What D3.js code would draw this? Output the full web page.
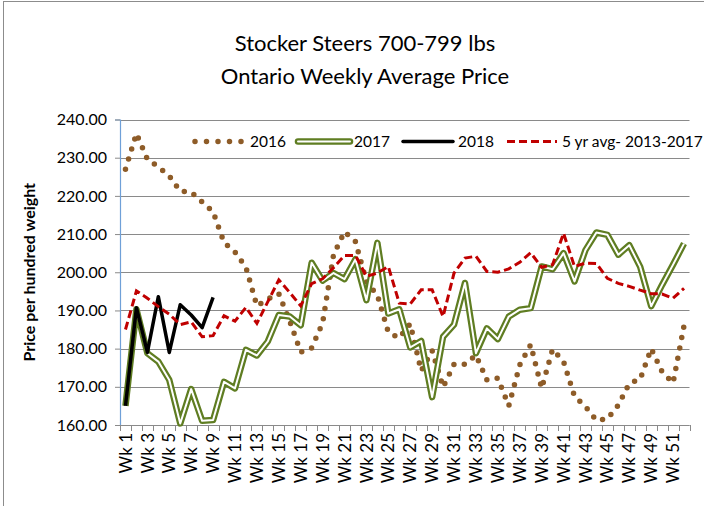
<!DOCTYPE html>
<html>
<head>
<meta charset="utf-8">
<script src="https://cdn.jsdelivr.net/npm/d3@7/dist/d3.min.js"></script>
<style>
body { margin: 0; background: #fff; }
text { font-family: Lato, "Open Sans", sans-serif; fill: #000; }
</style>
</head>
<body>
<script>
(function(){

//categories (weeks of the year)
var weeks = ["Wk 1","Wk 2","Wk 3","Wk 4","Wk 5","Wk 6","Wk 7","Wk 8","Wk 9","Wk 10",
    "Wk 11","Wk 12","Wk 13","Wk 14","Wk 15","Wk 16","Wk 17","Wk 18","Wk 19","Wk 20",
    "Wk 21","Wk 22","Wk 23","Wk 24","Wk 25","Wk 26","Wk 27","Wk 28","Wk 29","Wk 30",
    "Wk 31","Wk 32","Wk 33","Wk 34","Wk 35","Wk 36","Wk 37","Wk 38","Wk 39","Wk 40",
    "Wk 41","Wk 42","Wk 43","Wk 44","Wk 45","Wk 46","Wk 47","Wk 48","Wk 49","Wk 50",
    "Wk 51","Wk 52"];

//weekly average price, $ per hundred weight
var price2016 = [227.0, 236.3, 229.6, 227.6, 225.2, 221.2, 221.0, 218.4, 215.8, 207.8,
    205.3, 201.3, 191.2, 193.0, 194.4, 187.2, 179.1, 180.2, 186.7, 204.6,
    210.6, 208.0, 197.5, 194.0, 184.3, 182.8, 186.5, 174.2, 179.5, 169.9,
    175.9, 175.9, 178.3, 171.8, 172.3, 165.0, 175.7, 181.0, 169.6, 179.8,
    176.6, 167.5, 164.8, 161.2, 161.6, 165.2, 170.9, 172.0, 180.0, 173.9,
    171.0, 186.0];

var price2017 = [165.0, 190.3, 178.8, 176.6, 171.8, 160.4, 169.4, 161.1, 161.3, 171.3,
    169.6, 179.7, 178.2, 181.9, 188.8, 188.4, 186.1, 202.5, 197.8, 199.8,
    198.2, 203.4, 192.7, 207.7, 189.2, 190.3, 180.3, 182.0, 167.3, 183.1,
    186.3, 197.2, 178.8, 185.3, 182.5, 188.4, 190.2, 190.6, 201.5, 200.8,
    205.0, 197.6, 205.8, 210.4, 209.8, 204.6, 207.1, 201.4, 191.1, 196.7,
    202.0, 207.5];

var price2018 = [165.0, 190.7, 179.0, 193.6, 179.0, 191.5, 188.8, 185.5, 193.4];

var avg5yr = [185.0, 195.1, 193.2, 191.0, 189.0, 186.3, 187.0, 183.1, 183.4, 188.6,
    187.2, 190.8, 186.6, 192.3, 198.0, 194.7, 191.2, 197.0, 198.3, 201.2,
    204.4, 204.4, 198.9, 199.8, 201.5, 191.9, 191.7, 195.4, 195.4, 188.4,
    199.8, 203.7, 204.2, 200.2, 200.0, 200.9, 202.6, 205.1, 201.3, 202.0,
    210.2, 201.5, 202.4, 202.3, 198.4, 197.1, 196.3, 195.3, 194.4, 194.3,
    193.2, 195.8];

//y axis ticks
var yTicks = [160, 170, 180, 190, 200, 210, 220, 230, 240];

//series names for legend
var seriesNames = ["2016", "2017", "2018", "5 yr avg- 2013-2017"];

//frame
var width = 704,
    height = 506,
    plotLeft = 120,
    plotRight = 689.5,
    plotTop = 119.5,
    plotBottom = 425;

var svg = d3.select("body")
    .append("svg")
    .attr("width", width)
    .attr("height", height);

//outer chart border (right and bottom run off the picture)
svg.append("rect")
    .attr("x", 3.5)
    .attr("y", 1.5)
    .attr("width", 760)
    .attr("height", 560)
    .attr("fill", "none")
    .attr("stroke", "#8c8c8c")
    .attr("stroke-width", 1);

//scales
var x = d3.scalePoint()
    .domain(weeks)
    .range([plotLeft, plotRight])
    .padding(0.5);

var y = d3.scaleLinear()
    .domain([160, 240])
    .range([plotBottom, plotTop]);

var step = x.step();

//title
svg.append("text")
    .attr("x", 365)
    .attr("y", 51)
    .attr("text-anchor", "middle")
    .style("font-size", "22px")
    .text("Stocker Steers 700-799 lbs");

svg.append("text")
    .attr("x", 365)
    .attr("y", 84)
    .attr("text-anchor", "middle")
    .style("font-size", "22px")
    .text("Ontario Weekly Average Price");

//gridlines
svg.selectAll(".grid")
    .data(yTicks)
    .enter()
    .append("line")
    .attr("class", "grid")
    .attr("x1", plotLeft)
    .attr("x2", plotRight)
    .attr("y1", function(d){ return Math.round(y(d)) + 0.5; })
    .attr("y2", function(d){ return Math.round(y(d)) + 0.5; })
    .attr("stroke", "#8a8a8a")
    .attr("stroke-width", 1);

//y axis
var yAxis = d3.axisLeft(y)
    .tickValues(yTicks)
    .tickSize(5)
    .tickPadding(8)
    .tickFormat(d3.format(".2f"));

var yG = svg.append("g")
    .attr("transform", "translate(" + plotLeft + ",0)")
    .call(yAxis);
yG.select(".domain").attr("stroke", "#6fa0d8").attr("stroke-width", 1.2);
yG.selectAll(".tick line").attr("stroke", "#8a8a8a");
yG.selectAll(".tick text")
    .style("font-size", "16px")
    .style("font-family", "Lato, sans-serif")
    .attr("fill", "#000");

//y axis title
svg.append("text")
    .attr("transform", "translate(35," + ((plotTop + plotBottom) / 2) + ") rotate(-90)")
    .attr("text-anchor", "middle")
    .style("font-size", "16px")
    .style("font-weight", "bold")
    .text("Price per hundred weight");

//x axis line and ticks between weeks
var xAxisG = svg.append("g").attr("class", "xaxis");
xAxisG.append("line")
    .attr("x1", plotLeft)
    .attr("x2", plotRight)
    .attr("y1", plotBottom + 0.5)
    .attr("y2", plotBottom + 0.5)
    .attr("stroke", "#8a8a8a");

var boundaries = weeks.map(function(d){ return x(d) - step / 2; });
boundaries.push(x(weeks[weeks.length - 1]) + step / 2);

xAxisG.selectAll(".xtick")
    .data(boundaries)
    .enter()
    .append("line")
    .attr("class", "xtick")
    .attr("x1", function(d){ return Math.round(d) + 0.5; })
    .attr("x2", function(d){ return Math.round(d) + 0.5; })
    .attr("y1", plotBottom)
    .attr("y2", plotBottom + 6)
    .attr("stroke", "#8a8a8a");

//x labels on every other week
xAxisG.selectAll(".xlabel")
    .data(weeks.filter(function(d, i){ return i % 2 == 0; }))
    .enter()
    .append("text")
    .attr("class", "xlabel")
    .attr("transform", function(d){
        return "translate(" + x(d) + "," + (plotBottom + 8) + ") rotate(-90)";
    })
    .attr("dy", "0.36em")
    .attr("text-anchor", "end")
    .style("font-size", "17px")
    .text(function(d){ return d; });

//line generator
var line = d3.line()
    .x(function(d, i){ return x(weeks[i]); })
    .y(function(d){ return y(d); });

//2016 dotted brown
svg.append("path")
    .datum(price2016)
    .attr("d", line)
    .attr("fill", "none")
    .attr("stroke", "#8e5c28")
    .attr("stroke-width", 5.5)
    .attr("stroke-linecap", "round")
    .attr("stroke-dasharray", "0 10.5");

//2017 green double line
svg.append("path")
    .datum(price2017)
    .attr("d", line)
    .attr("fill", "none")
    .attr("stroke", "#5f7d22")
    .attr("stroke-width", 6.5)
    .attr("stroke-linejoin", "round");
svg.append("path")
    .datum(price2017)
    .attr("d", line)
    .attr("fill", "none")
    .attr("stroke", "#fff")
    .attr("stroke-width", 2)
    .attr("stroke-linejoin", "round");

//2018 black
svg.append("path")
    .datum(price2018)
    .attr("d", line)
    .attr("fill", "none")
    .attr("stroke", "#000")
    .attr("stroke-width", 3.5)
    .attr("stroke-linejoin", "round");

//5 yr average red dashed
svg.append("path")
    .datum(avg5yr)
    .attr("d", line)
    .attr("fill", "none")
    .attr("stroke", "#c00000")
    .attr("stroke-width", 3)
    .attr("stroke-dasharray", "8 4");

//legend
var legendY = 141.5;
var legendItems = [
    {name: seriesNames[0], x1: 195, x2: 241, tx: 250},
    {name: seriesNames[1], x1: 298, x2: 350, tx: 354},
    {name: seriesNames[2], x1: 403, x2: 453, tx: 458},
    {name: seriesNames[3], x1: 507, x2: 557, tx: 562}
];

var leg = svg.append("g").attr("class", "legend");

leg.append("line")
    .attr("x1", legendItems[0].x1).attr("x2", legendItems[0].x2 + 1)
    .attr("y1", legendY).attr("y2", legendY)
    .attr("stroke", "#8e5c28")
    .attr("stroke-width", 5.5)
    .attr("stroke-linecap", "round")
    .attr("stroke-dasharray", "0 11.5");

leg.append("line")
    .attr("x1", legendItems[1].x1).attr("x2", legendItems[1].x2)
    .attr("y1", legendY).attr("y2", legendY)
    .attr("stroke", "#5f7d22")
    .attr("stroke-width", 6.5)
    .attr("stroke-linecap", "round");
leg.append("line")
    .attr("x1", legendItems[1].x1).attr("x2", legendItems[1].x2)
    .attr("y1", legendY).attr("y2", legendY)
    .attr("stroke", "#fff")
    .attr("stroke-width", 2)
    .attr("stroke-linecap", "round");

leg.append("line")
    .attr("x1", legendItems[2].x1).attr("x2", legendItems[2].x2)
    .attr("y1", legendY).attr("y2", legendY)
    .attr("stroke", "#000")
    .attr("stroke-width", 3.5)
    .attr("stroke-linecap", "round");

leg.append("line")
    .attr("x1", legendItems[3].x1).attr("x2", legendItems[3].x2)
    .attr("y1", legendY).attr("y2", legendY)
    .attr("stroke", "#c00000")
    .attr("stroke-width", 3)
    .attr("stroke-dasharray", "8 4");

leg.selectAll(".legText")
    .data(legendItems)
    .enter()
    .append("text")
    .attr("class", "legText")
    .attr("x", function(d){ return d.tx; })
    .attr("y", legendY)
    .attr("dy", "0.36em")
    .style("font-size", "15.5px")
    .text(function(d){ return d.name; });

})();
</script>
</body>
</html>
